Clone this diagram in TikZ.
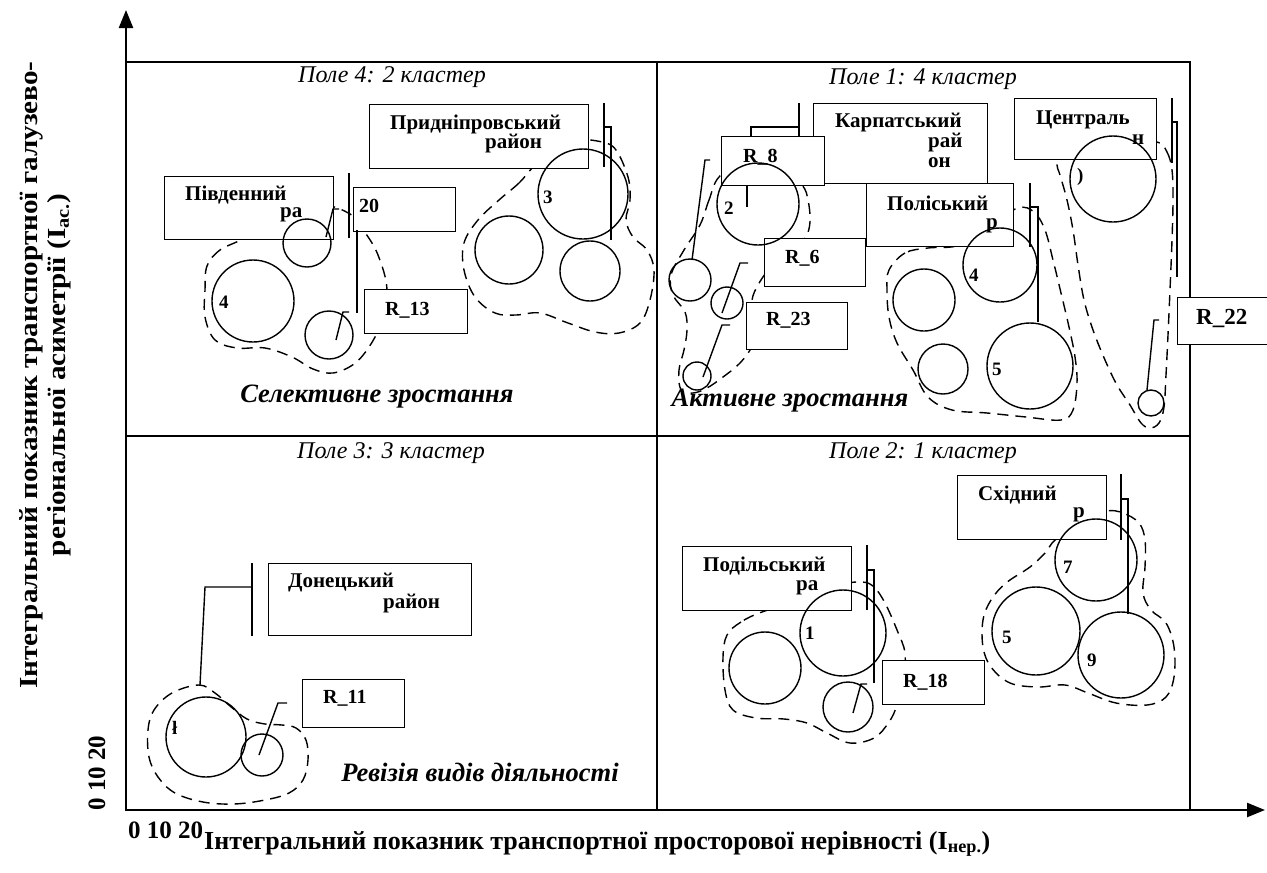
\documentclass[tikz,border=0pt]{standalone}
\usepackage{fontspec}
\setmainfont{Liberation Serif}
\usetikzlibrary{arrows.meta}
\tikzset{
 box/.style={draw, fill=white, line width=1.4pt, inner sep=0pt, anchor=north west},
 ring/.style={draw, circle, line width=1.4pt, inner sep=0pt},
 blob/.style={line width=1.4pt, dash pattern=on 11pt off 7pt},
 lead/.style={line width=1.4pt},
 lab/.style={font=\fontsize{21}{23}\selectfont\bfseries, inner sep=0pt, anchor=west},
 rlab/.style={font=\fontsize{20}{22}\selectfont\bfseries, inner sep=0pt, anchor=west},
 num/.style={font=\fontsize{19}{20}\selectfont\bfseries, inner sep=0pt, anchor=west},
 ttl/.style={font=\fontsize{24}{26}\selectfont\itshape, inner sep=0pt},
 big/.style={font=\fontsize{26.5}{28}\selectfont\bfseries\itshape, inner sep=0pt},
 axl/.style={font=\fontsize{26}{29}\selectfont\bfseries, inner sep=0pt},
 axn/.style={font=\fontsize{25}{28}\selectfont\bfseries, inner sep=0pt},
 axis/.style={line width=2.4pt},
 frame/.style={line width=1.4pt},
}
\begin{document}
\begin{tikzpicture}[x=1pt,y=-1pt]
\useasboundingbox (0,0) rectangle (1267,873);
% frame
\draw[frame] (126,62) rectangle (1190,810);
\draw[frame] (657,62) -- (657,810);
\draw[frame] (126,436) -- (1190,436);
% axes
\coordinate (O) at (126,810);
\coordinate (ytip) at (126,10);
\coordinate (xtip) at (1265,810);
\draw[axis,-{Triangle[length=18pt,width=14pt]}] (O) -- (ytip);
\draw[axis,-{Triangle[length=18pt,width=14pt]}] (O) -- (xtip);

% ---------- blobs ----------
\draw[blob] plot[smooth cycle, tension=0.6] coordinates {(244,238) (220,250) (207,266) (205,290) (205,317) (215,340) (237,348) (265,348) (292,357) (313,369) (333,373) (354,364) (369,347) (380,325) (387,290) (378,255) (364,231) (350,214) (320,205) (275,215)};
\draw[blob] plot[smooth cycle, tension=0.6] coordinates {(533,167) (519,183) (499,200) (478,220) (464,243) (464,270) (475,297) (495,313) (516,315) (540,313) (568,323) (595,332) (619,333) (640,323) (650,300) (654,270) (647,250) (633,237) (626,220) (630,200) (628,177) (616,150) (602,142) (575,140) (550,150)};
\draw[blob] plot[smooth cycle, tension=0.6] coordinates {(719,177) (709,200) (700,225) (684,250) (671,275) (673,295) (685,312) (687,330) (684,350) (679,370) (681,390) (693,393) (707,388) (723,377) (740,363) (752,345) (752,320) (752,300) (758,285) (770,268) (790,250) (805,238) (810,222) (808,200) (802,185) (780,165) (745,160)};
\draw[blob] plot[smooth cycle, tension=0.6] coordinates {(928,248) (905,253) (889,270) (887,290) (889,317) (897,343) (913,370) (928,397) (952,410) (987,413) (1026,417) (1061,420) (1073,410) (1077,383) (1075,357) (1069,327) (1061,293) (1053,260) (1045,230) (1034,212) (1018,208) (990,225) (960,245)};
\draw[blob] plot[smooth cycle, tension=0.6] coordinates {(1157,142) (1167,152) (1172,170) (1173,200) (1172,240) (1170,290) (1168,335) (1166,375) (1164,407) (1159,423) (1150,428) (1141,423) (1130,405) (1117,385) (1105,360) (1093,330) (1084,300) (1078,265) (1073,230) (1067,200) (1060,175) (1057,165) (1062,159) (1090,150) (1130,145)};
\draw[blob] plot[smooth cycle, tension=0.6] coordinates {(199,685) (172,693) (154,710) (148,730) (149,757) (158,777) (175,793) (203,802) (234,804) (265,800) (289,793) (303,780) (308,760) (306,740) (296,728) (282,725) (265,724) (247,719) (230,706) (215,693)};
\draw[blob] plot[smooth cycle, tension=0.6] coordinates {(1055,540) (1045,553) (1030,567) (1006,583) (991,600) (983,620) (983,647) (991,667) (1010,683) (1038,687) (1065,685) (1088,693) (1116,703) (1147,705) (1166,697) (1174,677) (1174,647) (1166,623) (1151,610) (1143,593) (1145,567) (1145,540) (1139,523) (1123,513) (1106,511) (1080,520)};
\draw[blob] plot[smooth cycle, tension=0.6] coordinates {(762,612) (741,622) (727,635) (723,657) (725,690) (733,710) (756,718) (784,719) (807,723) (827,733) (850,743) (874,738) (889,722) (897,705) (903,680) (905,653) (897,630) (885,603) (874,587) (862,582) (840,585) (800,600)};

% ---------- boxes ----------
\node[box, minimum width=219pt, minimum height=64pt] (prid) at (369,104) {};
\node[box, minimum width=169pt, minimum height=63pt] (pivd) at (164,176) {};
\node[box, minimum width=102pt, minimum height=44pt] (b20) at (353,187) {};
\node[box, minimum width=103pt, minimum height=44pt] (r13) at (364,289) {};
\node[box, minimum width=174pt, minimum height=80pt] (karp) at (813,103) {};
\node[box, minimum width=103pt, minimum height=49pt] (r8) at (721,136) {};
\node[box, minimum width=147pt, minimum height=63pt] (pol) at (866,183) {};
\node[box, minimum width=101pt, minimum height=48pt] (r6) at (764,238) {};
\node[box, minimum width=101pt, minimum height=47pt] (r23) at (746,302) {};
\node[box, minimum width=142pt, minimum height=61pt] (centr) at (1014,98) {};
\node[box, minimum width=90pt, minimum height=47pt] (r22) at (1177,297) {};
\node[box, minimum width=203pt, minimum height=72pt] (don) at (268,563) {};
\node[box, minimum width=102pt, minimum height=48pt] (r11) at (302,679) {};
\node[box, minimum width=149pt, minimum height=64pt] (skh) at (957,475) {};
\node[box, minimum width=169pt, minimum height=64pt] (pod) at (682,546) {};
\node[box, minimum width=102pt, minimum height=44pt] (r18) at (882,660) {};

% ---------- circles ----------
\node[ring, minimum size=48pt] (qa1) at (307,243) {};
\node[ring, minimum size=82pt] (qa2) at (253,301) {};
\node[ring, minimum size=48pt] (qa3) at (329,335) {};
\node[ring, minimum size=90pt] (qa4) at (583,194) {};
\node[ring, minimum size=68pt] (qa5) at (509,250) {};
\node[ring, minimum size=60pt] (qa6) at (590,271) {};
\node[ring, minimum size=82pt] (qb1) at (758,204) {};
\node[ring, minimum size=42pt] (qb2) at (690,280) {};
\node[ring, minimum size=32pt] (qb3) at (727,303) {};
\node[ring, minimum size=28pt] (qb4) at (697,376) {};
\node[ring, minimum size=74pt] (qb5) at (1000,265) {};
\node[ring, minimum size=62pt] (qb6) at (924,300) {};
\node[ring, minimum size=50pt] (qb7) at (943,369) {};
\node[ring, minimum size=86pt] (qb8) at (1030,366) {};
\node[ring, minimum size=86pt] (qb9) at (1113,179) {};
\node[ring, minimum size=26pt] (qb10) at (1151,403) {};
\node[ring, minimum size=80pt] (qc1) at (206,737) {};
\node[ring, minimum size=42pt] (qc2) at (262,755) {};
\node[ring, minimum size=86pt] (qd1) at (843,633) {};
\node[ring, minimum size=72pt] (qd2) at (765,668) {};
\node[ring, minimum size=50pt] (qd3) at (848,707) {};
\node[ring, minimum size=82pt] (qd4) at (1096,560) {};
\node[ring, minimum size=88pt] (qd5) at (1036,631) {};
\node[ring, minimum size=86pt] (qd6) at (1121,655) {};

% ---------- leader lines ----------
\draw[lead] (326,237) -- (333,209) -- (339,209);
\draw[lead] (336,340) -- (343,312) -- (349,312);
\draw[lead] (349,173) -- (349,238);
\draw[lead] (357,230) -- (357,313);
\draw[lead] (604,103) -- (604,167);
\draw[lead] (604,127) -- (611,127) -- (611,240);
\draw[lead] (799,103) -- (799,136);
\draw[lead] (751,136) -- (751,127) -- (799,127);
\draw[lead] (747,185) -- (747,207);
\draw[lead] (692,260) -- (705,160) -- (710,160);
\draw[lead] (748,263) -- (740,263) -- (722,313);
\draw[lead] (730,325) -- (722,325) -- (703,377);
\draw[lead] (1030,183) -- (1030,247);
\draw[lead] (1030,207) -- (1038,207) -- (1038,322);
\draw[lead] (1172,98) -- (1172,163);
\draw[lead] (1172,122) -- (1177,122) -- (1177,277);
\draw[lead] (1147,390) -- (1154,320) -- (1159,320);
\draw[lead] (252,563) -- (252,636);
\draw[lead] (252,587) -- (205,587) -- (200,685);
\draw[lead] (259,755) -- (278,703) -- (287,703);
\draw[lead] (1121,474) -- (1121,540);
\draw[lead] (1121,499) -- (1128,499) -- (1128,614);
\draw[lead] (867,545) -- (867,610);
\draw[lead] (867,570) -- (874,570) -- (874,683);
\draw[lead] (853,713) -- (861,684) -- (867,684);

% ---------- box texts ----------
\node[lab] (t1) at (390,124) {Придніпровський};
\node[lab] (t2) at (485,144) {район};
\node[lab] (t3) at (185,195) {Південний};
\node[lab] (t4) at (280,215) {ра};
\node[rlab] (t5) at (359,206) {20};
\node[rlab] (t6) at (385,310) {R\_13};
\node[lab] (t7) at (835,123) {Карпатський};
\node[lab] (t8) at (928,143) {рай};
\node[lab] (t9) at (928,163) {он};
\node[rlab] (t10) at (743,157) {R\_8};
\node[lab] (t11) at (887,203) {Поліський};
\node[lab] (t12) at (986,226) {р};
\node[rlab] (t13) at (785,258) {R\_6};
\node[rlab] (t14) at (766,320) {R\_23};
\node[lab] (t15) at (1036,120) {Централь};
\node[lab] (t16) at (1132,140) {н};
\node[rlab, font=\fontsize{23}{25}\selectfont\bfseries] (t17) at (1196,318) {R\_22};
\node[lab] (t18) at (288,583) {Донецький};
\node[lab] (t19) at (383,603) {район};
\node[rlab] (t20) at (323,698) {R\_11};
\node[lab] (t21) at (978,495) {Східний};
\node[lab] (t22) at (1073,515) {р};
\node[lab] (t23) at (703,566) {Подільський};
\node[lab] (t24) at (796,588) {ра};
\node[rlab] (t25) at (903,682) {R\_18};
% circle numbers
\node[num] (n1) at (219,302) {4};
\node[num] (n2) at (543,197) {3};
\node[num] (n3) at (724,208) {2};
\node[num] (n4) at (969,275) {4};
\node[num] (n5) at (992,369) {5};
\node[num] (n6) at (1077,177) {)};
\node[num] (n7) at (172,728) {ł};
\node[num] (n8) at (1063,567) {7};
\node[num] (n9) at (1002,637) {5};
\node[num] (n10) at (1087,660) {9};
\node[num] (n11) at (805,633) {1};

% ---------- titles ----------
\node[ttl] (f4) at (392,77) {Поле 4: 2 кластер};
\node[ttl] (f1) at (923,79) {Поле 1: 4 кластер};
\node[ttl] (f3) at (391,453) {Поле 3: 3 кластер};
\node[ttl] (f2) at (923,453) {Поле 2: 1 кластер};
\node[big] (s1) at (377,397) {Селективне зростання};
\node[big] (s2) at (790,401) {Активне зростання};
\node[big] (s3) at (480,772) {Ревізія видів діяльності};

% ---------- axis labels ----------
\node[axn, anchor=west] (x0) at (128,830) {0 10 20};
\node[axl, anchor=west] (xl) at (204,844) {Інтегральний показник транспортної просторової нерівності (I\textsubscript{нер.})};
\node[axn, rotate=90] (y0) at (97,773) {0 10 20};
\node[axl, rotate=90] (yl1) at (31,375) {\scalebox{1.12}[1]{Інтегральний показник транспортної галузево-}};
\node[axl, rotate=90] (yl2) at (59,375) {\scalebox{1.12}[1]{регіональної асиметрії (I\textsubscript{ас.})}};
\end{tikzpicture}
\end{document}
